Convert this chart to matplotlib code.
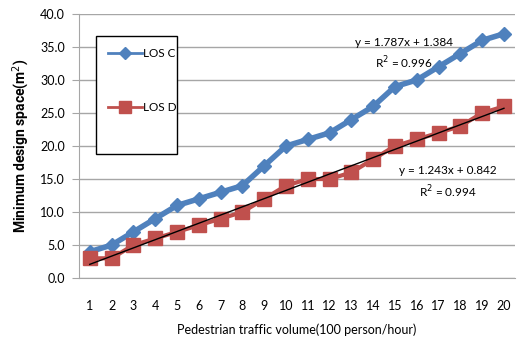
import matplotlib.pyplot as plt
import numpy as np
from matplotlib.patches import Rectangle

plt.rcParams['font.family'] = ['Lato', 'DejaVu Sans']

# data
volume = list(range(1, 21))
los_c = [4, 5, 7, 9, 11, 12, 13, 14, 17, 20, 21, 22, 24, 26, 29, 30, 32, 34, 36, 37]
los_d = [3, 3, 5, 6, 7, 8, 9, 10, 12, 14, 15, 15, 16, 18, 20, 21, 22, 23, 25, 26]
eq_c = ['y = 1.787x + 1.384', 'R$^2$ = 0.996']
eq_d = ['y = 1.243x + 0.842', 'R$^2$ = 0.994']

H = 340
fig = plt.figure(figsize=(5.19, 3.40), dpi=100)
ax = fig.add_axes([0.152, 0.182, 0.840, 0.777])

x = np.array(volume)
ax.plot(x, los_c, color='#4F81BD', lw=4, marker='D', ms=7.5, label='LOS C', zorder=3)
ax.plot(x, los_d, color='#C0504D', lw=3, marker='s', ms=10, label='LOS D', zorder=3)

# linear trendline, only the LOS D one is visible in the original
k, b = np.polyfit(x, los_d, 1)
ax.plot(x, k * x + b, color='black', lw=1, zorder=4)

ax.text(404, H - 43, eq_c[0], transform=None, fontsize=8.5, ha='center', va='center')
ax.text(404, H - 63, eq_c[1], transform=None, fontsize=8.5, ha='center', va='center')
ax.text(448, H - 171, eq_d[0], transform=None, fontsize=8.5, ha='center', va='center')
ax.text(448, H - 192, eq_d[1], transform=None, fontsize=8.5, ha='center', va='center')

ax.set_xlim(0.5, 20.5)
ax.set_ylim(0, 40)
ax.set_xticks(volume)
ax.set_yticks(np.arange(0, 41, 5))
ax.set_yticklabels(['%.1f' % v for v in np.arange(0, 41, 5)])
ax.yaxis.grid(True, color='#A6A6A6', lw=1)
ax.set_axisbelow(True)
for s in ('top', 'right'):
    ax.spines[s].set_visible(False)
ax.spines['left'].set_color('#A6A6A6')
ax.spines['bottom'].set_color('#A6A6A6')
ax.tick_params(axis='x', length=0, pad=16, labelsize=9)
ax.tick_params(axis='y', length=5, color='#A6A6A6', pad=5, labelsize=9)

ax.set_xlabel('Pedestrian traffic volume(100 person/hour)', fontsize=9, labelpad=8)
ax.set_ylabel('Minimum design space(m$^2$)', fontsize=10, fontweight='bold',
              family=['Roboto', 'DejaVu Sans'], labelpad=6)

ax.add_patch(Rectangle((0.039, 0.470), 0.186, 0.447, transform=ax.transAxes,
                       fill=True, facecolor='white', edgecolor='black', lw=1, zorder=5))
leg = ax.legend(loc='upper left', bbox_to_anchor=(0.039, 0.917), frameon=False,
                fontsize=8.5, handlelength=2.9, labelspacing=3.7, borderpad=0.5,
                handletextpad=0.1, markerscale=0.8)
leg.set_zorder(6)
for ln in leg.get_lines():
    ln.set_linewidth(2)

fig.savefig('out.png', dpi=100)
